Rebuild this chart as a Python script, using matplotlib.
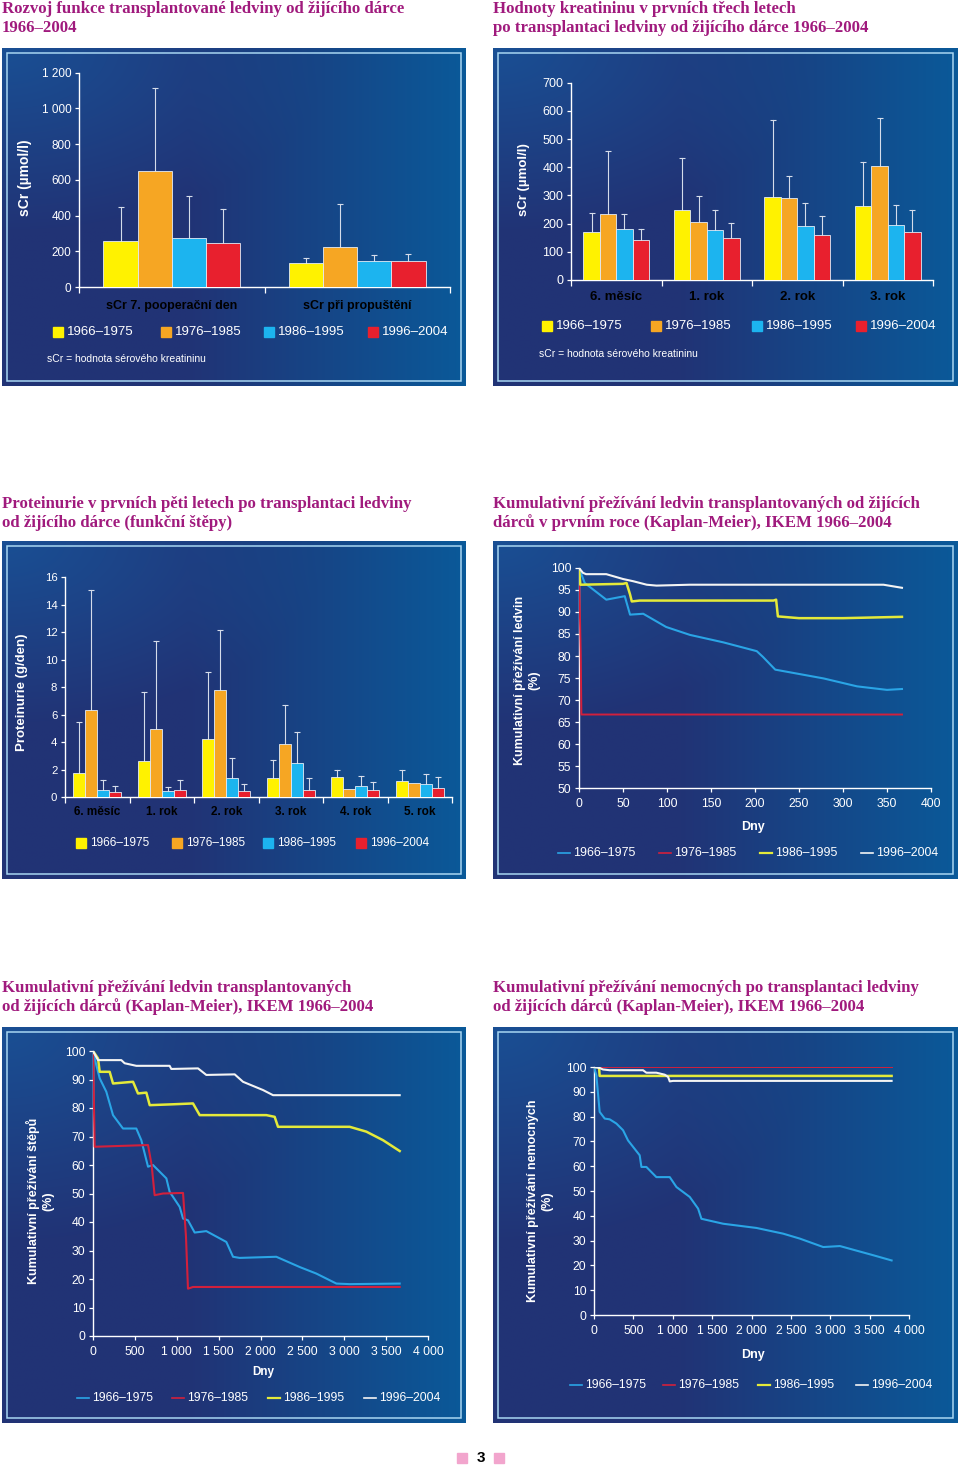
import numpy as np
import matplotlib.pyplot as plt
from matplotlib.patches import Rectangle
from matplotlib.lines import Line2D
from matplotlib.ticker import FuncFormatter

plt.rcParams['font.family'] = ['Liberation Sans', 'DejaVu Sans']

W, H = 960, 1468

periods = ['1966–1975', '1976–1985', '1986–1995', '1996–2004']
bar_colors = ['#fff200', '#f6a623', '#1cb4ef', '#e8202e']
line_colors = ['#2aa5e6', '#d2203c', '#e4ea3a', '#f4f4f4']

# 1) sCr - 7. den / propusteni (prumer, horni konec chybove usecky)
scr_groups = ['sCr 7. pooperační den', 'sCr při propuštění']
scr_mean = [[256, 135], [649, 224], [275, 144], [245, 144]]
scr_top = [[449, 164], [1112, 467], [508, 181], [435, 187]]

# 2) sCr v prvnich trech letech
yr3_groups = ['6. měsíc', '1. rok', '2. rok', '3. rok']
yr3_mean = [[169, 248, 296, 261], [235, 207, 290, 403],
            [182, 176, 192, 195], [141, 148, 161, 169]]
yr3_top = [[239, 433, 566, 417], [458, 297, 369, 573],
           [235, 247, 274, 265], [180, 203, 228, 249]]

# 3) proteinurie
prot_groups = ['6. měsíc', '1. rok', '2. rok', '3. rok', '4. rok', '5. rok']
prot_mean = [[1.74, 2.59, 4.21, 1.35, 1.43, 1.14],
             [6.31, 4.93, 7.78, 3.82, 0.56, 1.02],
             [0.53, 0.41, 1.35, 2.44, 0.80, 0.97],
             [0.36, 0.51, 0.44, 0.51, 0.51, 0.68]]
prot_top = [[5.49, 7.64, 9.11, 2.68, 2.00, 1.93],
            [15.08, 11.38, 12.18, 6.72, 0.56, 1.02],
            [1.21, 0.73, 2.83, 4.76, 1.50, 1.69],
            [0.77, 1.23, 0.92, 1.38, 1.11, 1.45]]

# 4) preziti ledvin v prvnim roce
y1_days = [
    [0, 6.5, 31, 52, 58, 73, 99, 126, 164, 202, 209, 223, 278, 316, 350, 367],
    [0, 2, 2.7, 367],
    [0, 1.5, 50, 54, 58, 60, 69, 221, 224, 226, 250, 300, 367],
    [0, 4.5, 8, 31, 50, 61.5, 77, 88, 126, 346, 367],
]
y1_surv = [
    [100, 96.6, 92.8, 93.6, 89.4, 89.6, 86.6, 84.8, 83.1, 81.1, 79.8, 76.9, 74.9, 73.1, 72.3, 72.5],
    [100, 80, 66.7, 66.7],
    [100, 96.2, 96.4, 96.6, 94.0, 92.4, 92.6, 92.6, 92.8, 89.0, 88.6, 88.6, 88.9],
    [100, 98.9, 98.6, 98.6, 97.5, 97.0, 96.2, 96.0, 96.2, 96.2, 95.5],
]

# 5) preziti stepu
gr_days = [
    [0, 40, 80, 159, 199, 239, 358, 517, 577, 657, 716, 876, 915, 1035, 1075, 1134, 1214,
     1353, 1592, 1672, 1751, 2189, 2468, 2667, 2906, 3065, 3662],
    [0, 20, 657, 700, 736, 836, 1075, 1110, 1134, 1194, 3662],
    [0, 60, 80, 199, 239, 478, 537, 637, 677, 955, 1194, 1274, 2070, 2169, 2209, 3065,
     3264, 3463, 3662],
    [0, 60, 338, 378, 517, 915, 935, 1254, 1353, 1692, 1791, 2030, 2150, 3662],
]
gr_surv = [
    [100, 95, 90.4, 85.7, 81.6, 77.5, 72.8, 72.8, 68.7, 59.4, 60, 55.3, 50.6, 45.3, 41.2, 40.6,
     36.3, 36.8, 33, 27.8, 27.4, 27.8, 24.2, 21.9, 18.4, 18.2, 18.4],
    [100, 66.4, 67, 60, 49.4, 50, 50.2, 35, 16.6, 17.2, 17.2],
    [100, 97.4, 92.7, 92.7, 88.6, 89.2, 85.1, 85.4, 81, 81.3, 81.6, 77.5, 77.5, 76.9, 73.4,
     73.4, 71.7, 68.7, 64.9],
    [100, 96.8, 96.8, 95.7, 94.8, 94.8, 93.7, 93.9, 91.6, 91.8, 89.2, 86.3, 84.5, 84.5],
]

# 6) preziti nemocnych
pt_days = [
    [0, 30, 72, 136, 199, 284, 369, 432, 580, 602, 665, 792, 962, 1047, 1216, 1322, 1364,
     1640, 2063, 2402, 2614, 2911, 3123, 3546, 3779],
    [0, 3779],
    [0, 64, 72, 3779],
    [0, 72, 114, 199, 623, 665, 792, 898, 941, 962, 1004, 3779],
]
pt_surv = [
    [100, 96.6, 81.9, 79.2, 78.9, 77.2, 74.5, 70.4, 64.4, 59.7, 59.7, 55.6, 55.6, 51.6, 47.6,
     42.9, 38.8, 36.8, 35.1, 32.8, 30.8, 27.4, 27.8, 24.1, 22.0],
    [100, 100],
    [100, 100, 96.4, 96.4],
    [100, 99.6, 99.0, 98.7, 98.7, 97.7, 97.7, 96.9, 96.0, 94.2, 94.4, 94.4],
]

fig = plt.figure(figsize=(W / 100, H / 100), dpi=100)


def px(x0, y0, x1, y1):
    return [x0 / W, 1 - y1 / H, (x1 - x0) / W, (y1 - y0) / H]


def fx(x):
    return x / W


def fy(y):
    return 1 - y / H


# gradient pozadi panelu
nx, ny = 200, 120
X, Y = np.meshgrid(np.linspace(0, 1, nx), np.linspace(0, 1, ny))
navy = np.array([0.13, 0.20, 0.46])
right = np.array([0.04, 0.35, 0.60])
topleft = np.array([0.10, 0.31, 0.58])
wr = np.clip((X - 0.40) / 0.60, 0, 1)[..., None]
wtl = np.clip(1 - np.sqrt((X / 0.7) ** 2 + (Y / 0.55) ** 2), 0, 1)[..., None]
grad = navy + (right - navy) * wr + (topleft - navy) * wtl * (1 - wr)
grad = np.clip(grad, 0, 1)


def panel(x0, y0, x1, y1):
    ax = fig.add_axes(px(x0, y0, x1, y1), zorder=0)
    ax.imshow(grad, extent=[0, 1, 0, 1], aspect='auto', interpolation='bilinear')
    ix, iy = 5 / (x1 - x0), 5 / (y1 - y0)
    ax.add_patch(Rectangle((ix, iy), 1 - 2 * ix, 1 - 2 * iy, fill=False,
                           edgecolor='#a8d6f2', lw=1.1))
    ax.set_xlim(0, 1)
    ax.set_ylim(0, 1)
    ax.axis('off')


def title(x, y, l1, l2):
    for i, t in enumerate([l1, l2]):
        fig.text(fx(x), fy(y + i * 18.5), t, family='Liberation Serif', weight='bold',
                 fontsize=12.1, color='#a01a7d', va='center', ha='left')


def style(ax, fs):
    ax.set_facecolor('none')
    ax.patch.set_visible(False)
    for s in ['top', 'right']:
        ax.spines[s].set_visible(False)
    for s in ['left', 'bottom']:
        ax.spines[s].set_color('white')
        ax.spines[s].set_linewidth(1.0)
    ax.tick_params(colors='white', labelsize=fs, length=3, width=0.9, pad=2.5)
    ax.yaxis.set_major_formatter(FuncFormatter(lambda v, p: f'{int(v):,}'.replace(',', ' ')))


def bar_panel(rect, groups, means, tops, ymax, ystep, width, fs, cfs, cpad):
    ax = fig.add_axes(px(*rect), zorder=2)
    style(ax, fs)
    n = len(groups)
    x = np.arange(n)
    for i in range(4):
        pos = x + (i - 1.5) * width
        ax.bar(pos, means[i], width, color=bar_colors[i], edgecolor='#e4ecf6',
               linewidth=0.6, zorder=3)
        for p, m, t in zip(pos, means[i], tops[i]):
            if t > m:
                ax.plot([p, p], [m, t], color='#d5dcea', lw=0.8, zorder=2)
                ax.plot([p], [t], marker='_', ms=4, mew=0.8, color='#d5dcea', zorder=2)
    ax.set_xlim(-0.5, n - 0.5)
    ax.set_ylim(0, ymax)
    ax.set_yticks(np.arange(0, ymax + 1e-9, ystep))
    ax.set_xticks(np.arange(n + 1) - 0.5)
    ax.set_xticklabels([])
    ax.set_xticks(x, minor=True)
    ax.set_xticklabels(groups, minor=True, fontsize=cfs, fontweight='bold')
    ax.tick_params(axis='x', which='minor', length=0, pad=cpad)
    ax.tick_params(axis='x', which='major', length=4)
    return ax


def km_panel(rect, days, surv, xmax, xstep, ymin, ystep, fs, widths):
    ax = fig.add_axes(px(*rect), zorder=2)
    style(ax, fs)
    for d, s, c, lw in zip(days, surv, line_colors, widths):
        ax.plot(d, s, color=c, lw=lw, solid_joinstyle='round', zorder=3)
    ax.set_xlim(0, xmax)
    ax.set_ylim(ymin, 100)
    ax.set_xticks(np.arange(0, xmax + 1, xstep))
    ax.set_yticks(np.arange(ymin, 101, ystep))
    ax.xaxis.set_major_formatter(FuncFormatter(lambda v, p: f'{int(v):,}'.replace(',', ' ')))
    ax.tick_params(axis='x', pad=4)
    return ax


def legend_boxes(xs, y, fs):
    for x, c, lab in zip(xs, bar_colors, periods):
        fig.patches.append(Rectangle((fx(x), fy(y + 5)), 10 / W, 10 / H, color=c,
                                     transform=fig.transFigure, figure=fig))
        fig.text(fx(x + 14), fy(y), lab, color='white', fontsize=fs, va='center')


def legend_lines(xs, y, fs, widths):
    for x, c, lab, lw in zip(xs, line_colors, periods, widths):
        fig.lines.append(Line2D([fx(x), fx(x + 12)], [fy(y), fy(y)], color=c, lw=lw,
                                transform=fig.transFigure, figure=fig))
        fig.text(fx(x + 15), fy(y), lab, color='white', fontsize=fs, va='center')


def ylab(x, y, txt, fs=9.5):
    fig.text(fx(x), fy(y), txt, rotation=90, color='white', fontsize=fs,
             fontweight='bold', ha='center', va='center', multialignment='center')


# ---------- panel 1 ----------
panel(2, 48, 466, 386)
title(2, 9, 'Rozvoj funkce transplantované ledviny od žijícího dárce', '1966–2004')
bar_panel((79, 72.7, 450, 287), scr_groups, scr_mean, scr_top, 1200, 200, 0.184,
          8.5, 9, 9)
ylab(25, 178, 'sCr (µmol/l)', 10)
legend_boxes([53, 161, 264, 368], 332, 9.5)
fig.text(fx(47), fy(359), 'sCr = hodnota sérového kreatininu', color='white', fontsize=7.5,
         va='center')

# ---------- panel 2 ----------
panel(493, 48, 958, 386)
title(493, 9, 'Hodnoty kreatininu v prvních třech letech',
      'po transplantaci ledviny od žijícího dárce 1966–2004')
bar_panel((571, 82.7, 933, 280), yr3_groups, yr3_mean, yr3_top, 700, 100, 0.182,
          9, 9.5, 8)
ylab(524, 180, 'sCr (µmol/l)', 9.5)
legend_boxes([542, 651, 752, 856], 326, 9.5)
fig.text(fx(539), fy(354), 'sCr = hodnota sérového kreatininu', color='white', fontsize=7.5,
         va='center')

# ---------- panel 3 ----------
panel(2, 541, 466, 879)
title(2, 504, 'Proteinurie v prvních pěti letech po transplantaci ledviny',
      'od žijícího dárce (funkční štěpy)')
bar_panel((65, 577, 452, 797), prot_groups, prot_mean, prot_top, 16, 2, 0.186,
          8.2, 8.5, 6.5)
ylab(22, 692, 'Proteinurie (g/den)', 9.5)
legend_boxes([76, 172, 263, 356], 843, 8.5)

# ---------- panel 4 ----------
panel(493, 541, 958, 879)
title(493, 504, 'Kumulativní přežívání ledvin transplantovaných od žijících',
      'dárců v prvním roce (Kaplan-Meier), IKEM 1966–2004')
km_panel((579, 568, 931, 788), y1_days, y1_surv, 400, 50, 50, 5, 8.8,
         [1.5, 1.4, 1.8, 1.5])
ylab(527, 680, 'Kumulativní přežívání ledvin\n(%)', 9)
fig.text(fx(753), fy(827), 'Dny', color='white', fontsize=9, fontweight='bold',
         ha='center', va='center')
legend_lines([558, 659, 760, 861], 853, 8.9, [1.2, 1.2, 1.6, 1.2])

# ---------- panel 5 ----------
panel(2, 1027, 466, 1423)
title(2, 988, 'Kumulativní přežívání ledvin transplantovaných',
      'od žijících dárců (Kaplan-Meier), IKEM 1966–2004')
km_panel((93, 1051, 428, 1336), gr_days, gr_surv, 4000, 500, 0, 10, 8.8,
         [1.5, 1.5, 1.8, 1.5])
ylab(40, 1201, 'Kumulativní přežívání štěpů\n(%)', 9)
fig.text(fx(263), fy(1372), 'Dny', color='white', fontsize=8.5, fontweight='bold',
         ha='center', va='center')
legend_lines([77, 172, 268, 364], 1398, 8.7, [1.2, 1.2, 1.6, 1.2])

# ---------- panel 6 ----------
panel(493, 1027, 958, 1423)
title(493, 988, 'Kumulativní přežívání nemocných po transplantaci ledviny',
      'od žijících dárců (Kaplan-Meier), IKEM 1966–2004')
km_panel((594, 1067, 909, 1315), pt_days, pt_surv, 4000, 500, 0, 10, 8.8,
         [1.5, 0.7, 1.8, 1.5])
ylab(540, 1201, 'Kumulativní přežívání nemocných\n(%)', 9)
fig.text(fx(753), fy(1355), 'Dny', color='white', fontsize=9, fontweight='bold',
         ha='center', va='center')
legend_lines([570, 663, 758, 856], 1385, 8.7, [1.2, 1.2, 1.6, 1.2])

# cislo strany
for x in [457, 494]:
    fig.patches.append(Rectangle((fx(x), fy(1463)), 10 / W, 10 / H, color='#f2a5cd',
                                 transform=fig.transFigure, figure=fig))
fig.text(fx(481), fy(1458), '3', fontsize=11, fontweight='bold', ha='center', va='center')

fig.savefig('out.png', dpi=100)
